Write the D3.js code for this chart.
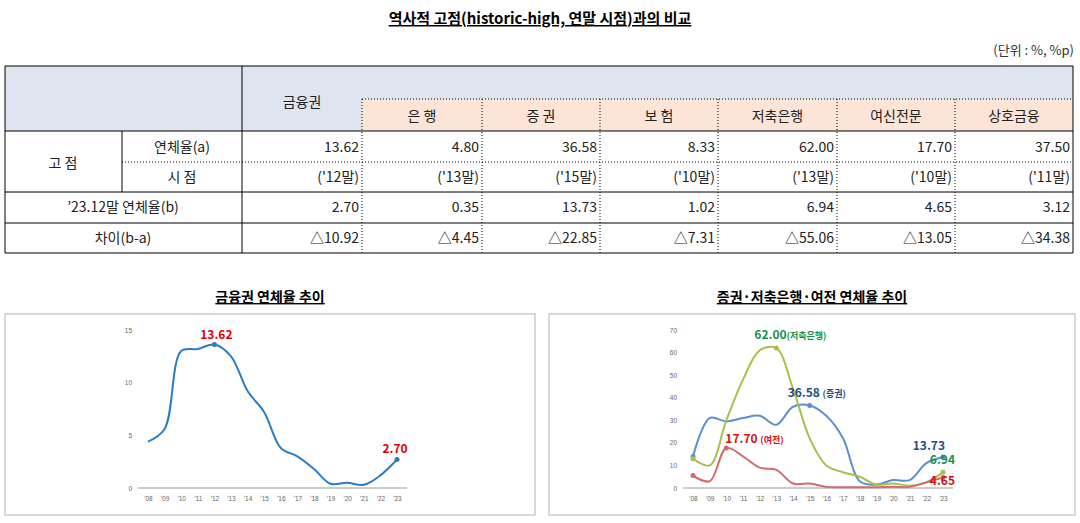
<!DOCTYPE html>
<html><head><meta charset="utf-8">
<script src="https://cdn.jsdelivr.net/npm/d3@7"></script>
<style>body{margin:0;background:#fff;font-family:"Noto Sans CJK KR","Noto Sans",sans-serif}</style>
</head><body><svg id="c" width="1080" height="523"></svg>
<script>
// table data
const groups = ['금융권','은 행','증 권','보 험','저축은행','여신전문','상호금융'];
const highRate = ['13.62','4.80','36.58','8.33','62.00','17.70','37.50'];
const highWhen = ["('12말)","('13말)","('15말)","('10말)","('13말)","('10말)","('11말)"];
const rate2312 = ['2.70','0.35','13.73','1.02','6.94','4.65','3.12'];
const diff = ['△10.92','△4.45','△22.85','△7.31','△55.06','△13.05','△34.38'];

// chart data
const years = ["'08","'09","'10","'11","'12","'13","'14","'15","'16","'17","'18","'19","'20","'21","'22","'23"];
const total = [4.4,5.6,13.0,13.2,13.62,12.5,9.2,7.2,3.8,3.0,1.8,0.4,0.5,0.3,1.2,2.7];
const sec = [14,31,29.5,31,32,28,36,36.58,32,22,3,1.5,3.5,3.5,11,13.73];
const sav = [13,10,30,48,61,62,44,22,10,7,5,1.5,2,1,2.5,6.94];
const card = [5.5,3,17.7,14,9,8,2,2,0.5,0.3,0.3,0.3,0.5,0.5,2.5,4.65];

const svg = d3.select('#c');

svg.append('text').attr('x',540).attr('y',24).attr('text-anchor','middle')
  .attr('font-size',15).attr('font-weight','bold').attr('text-decoration','underline')
  .text('역사적 고점(historic-high, 연말 시점)과의 비교');
svg.append('text').attr('x',1074).attr('y',55).attr('text-anchor','end')
  .attr('font-size',13).attr('fill','#333').text('(단위 : %, %p)');

// table
const colX = [5,122,242,362,482,600,718,837,955,1073];
const t = svg.append('g');
t.append('rect').attr('x',5).attr('y',66).attr('width',1068).attr('height',65).attr('fill','#dfe5f0');
t.append('rect').attr('x',362).attr('y',99).attr('width',711).attr('height',32).attr('fill','#fce4d6');
const hl = (x1,x2,y,w,dash) => t.append('line').attr('x1',x1).attr('x2',x2).attr('y1',y).attr('y2',y)
  .attr('stroke','#000').attr('stroke-width',w||1).attr('stroke-dasharray',dash||null);
const vl = (x,y1,y2,dash) => t.append('line').attr('x1',x).attr('x2',x).attr('y1',y1).attr('y2',y2)
  .attr('stroke','#000').attr('stroke-dasharray',dash||null);
hl(5,1073,66,1.2); hl(5,1073,131); hl(122,1073,162,1,'1,2'); hl(5,1073,192); hl(5,1073,223); hl(5,1073,253,1.2);
hl(362,1073,99,1,'1,2');
vl(5,66,253); vl(1073,66,253); vl(242,66,253); vl(122,131,192);
colX.slice(3,9).forEach(x=>vl(x,99,253,'1,2'));
const cell=(x,y,s,anchor)=>t.append('text').attr('x',x).attr('y',y).attr('text-anchor',anchor||'middle')
  .attr('font-size',14).attr('fill','#222').text(s);
cell(302,107,groups[0]);
groups.slice(1).forEach((g,i)=>cell((colX[i+3]+colX[i+4])/2,121,g));
cell(63,168,'고 점'); cell(182,152,'연체율(a)'); cell(182,182,'시    점');
cell(123,212,'’23.12말 연체율(b)'); cell(123,243,'차이(b-a)');
[highRate,highWhen,rate2312,diff].forEach((arr,r)=>{
  const y=[152,182,212,243][r];
  arr.forEach((v,i)=>cell(colX[i+3]-3,y,v,'end'));
});

// charts
function chart(box, title, series, xr, ymax, ystep, labels){
  const g = svg.append('g');
  g.append('rect').attr('x',box[0]).attr('y',314).attr('width',box[1]-box[0]).attr('height',201)
    .attr('fill','#fff').attr('stroke','#aab4c4');
  g.append('text').attr('x',(box[0]+box[1])/2).attr('y',302).attr('text-anchor','middle')
    .attr('font-size',14).attr('font-weight','bold').attr('text-decoration','underline').text(title);
  const x = d3.scalePoint().domain(years).range(xr);
  const y = d3.scaleLinear().domain([0,ymax]).range([488,330]);
  g.append('line').attr('x1',xr[0]-10).attr('x2',xr[1]+10).attr('y1',488).attr('y2',488).attr('stroke','#999');
  g.append('g').attr('transform',`translate(0,488)`).call(d3.axisBottom(x).tickSize(0).tickPadding(8))
    .call(a=>a.select('.domain').remove()).selectAll('text').attr('font-size',6.5).attr('fill','#666');
  g.append('g').attr('transform',`translate(${xr[0]-12},0)`).call(d3.axisLeft(y).ticks(ymax/ystep).tickSize(0).tickPadding(4))
    .call(a=>a.select('.domain').remove()).selectAll('text').attr('font-size',6.5).attr('fill','#666');
  const line = d3.line().x((d,i)=>x(years[i])).y(d=>y(d)).curve(d3.curveCatmullRom.alpha(0.5));
  series.forEach(s=>{
    g.append('path').attr('d',line(s.v)).attr('fill','none').attr('stroke',s.c).attr('stroke-width',2);
    s.pts.forEach(i=>g.append('circle').attr('cx',x(years[i])).attr('cy',y(s.v[i])).attr('r',2.5).attr('fill',s.c));
  });
  labels.forEach(l=>g.append('text').attr('x',x(years[l.i])+l.dx).attr('y',y(l.s.v[l.i])+l.dy)
    .attr('text-anchor',l.a||'middle').attr('fill',l.fc).attr('font-weight','bold').attr('font-size',l.fs||12)
    .text(l.t).append('tspan').attr('font-size',9).text(l.sub||''));
}
const sT={v:total,c:'#2e7cc4',pts:[4,15]};
chart([5,535],'금융권 연체율 추이',[sT],[148,397],15,5,[
  {s:sT,i:4,dx:2,dy:-6,t:'13.62',fc:'#e00000'},
  {s:sT,i:15,dx:-2,dy:-7,t:'2.70',fc:'#e00000'}]);
const sS={v:sec,c:'#5b8fd0',pts:[0,7,15]}, sV={v:sav,c:'#a8bf4e',pts:[0,5,15]}, sC={v:card,c:'#d46a6a',pts:[0,2,15]};
chart([549,1075],'증권·저축은행·여전 연체율 추이',[sS,sV,sC],[693,943],70,10,[
  {s:sV,i:5,dx:-22,dy:-9,t:'62.00',sub:'(저축은행)',fc:'#13934a',a:'start'},
  {s:sS,i:7,dx:-22,dy:-8,t:'36.58 ',sub:'(증권)',fc:'#1f4e80',a:'start'},
  {s:sC,i:2,dx:-1,dy:-5,t:'17.70 ',sub:'(여전)',fc:'#d01010',a:'start'},
  {s:sS,i:15,dx:2,dy:-7,t:'13.73',fc:'#1f4e80',a:'end'},
  {s:sV,i:15,dx:12,dy:-8,t:'6.94',fc:'#13934a',a:'end'},
  {s:sC,i:15,dx:12,dy:7,t:'4.65',fc:'#d01010',a:'end'}]);
</script></body></html>
